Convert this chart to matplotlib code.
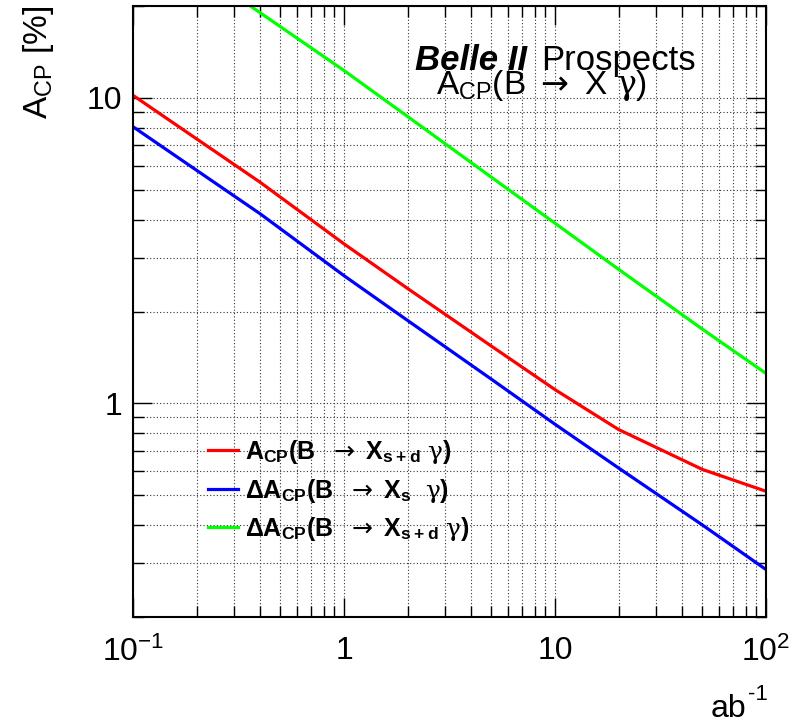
import numpy as np
import matplotlib
matplotlib.use('Agg')
import matplotlib.pyplot as plt
from matplotlib.ticker import LogLocator, FuncFormatter, NullFormatter

plt.rcParams['font.family'] = ['Liberation Sans', 'DejaVu Sans']
plt.rcParams['mathtext.fontset'] = 'custom'
plt.rcParams['mathtext.rm'] = 'Liberation Sans'
plt.rcParams['mathtext.it'] = 'DejaVu Serif'
plt.rcParams['mathtext.sf'] = 'DejaVu Sans'
plt.rcParams['mathtext.bf'] = 'Liberation Sans:bold'

# integrated luminosity [ab^-1]
lumi = [0.1, 0.2, 0.4, 1, 2, 5, 10, 20, 50, 100]
acp_sd = [10.2, 7.35, 5.3, 3.33, 2.38, 1.54, 1.11, 0.822, 0.608, 0.516]
dacp_s = [8.05, 5.8, 4.18, 2.62, 1.87, 1.20, 0.855, 0.615, 0.40, 0.286]
lumi_g = [0.36, 1, 2, 5, 10, 20, 50, 100]
dacp_sd = [20.0, 12.3, 8.7, 5.5, 3.89, 2.75, 1.75, 1.254]

arrow = '$\\mathsf{\\rightarrow}$'
labels = ['A$_{\\mathbf{CP}}$(B  ' + arrow + ' X$_{\\mathbf{s+d}}$ $\\gamma$)',
          'ΔA$_{\\mathbf{CP}}$(B  ' + arrow + ' X$_{\\mathbf{s}}$  $\\gamma$)',
          'ΔA$_{\\mathbf{CP}}$(B  ' + arrow + ' X$_{\\mathbf{s+d}}$ $\\gamma$)']

fig = plt.figure(figsize=(8.07, 7.24), dpi=100)
ax = fig.add_axes([133/807, 1-617/724, 633/807, 611/724])

l1, = ax.plot(lumi, acp_sd, color='#ff0000', lw=2.3)
l2, = ax.plot(lumi, dacp_s, color='#0000ff', lw=2.3)
l3, = ax.plot(lumi_g, dacp_sd, color='#00ff00', lw=2.3)

ax.set_xscale('log')
ax.set_yscale('log')
ax.set_xlim(0.1, 100)
ax.set_ylim(0.2, 20)

def fmt(v, pos):
    d = {0.1: '$10^{-1}$', 1: '1', 10: '10', 100: '$10^{2}$'}
    for k in d:
        if abs(v - k) < 1e-6 * k:
            return d[k]
    return ''

for a in (ax.xaxis, ax.yaxis):
    a.set_major_locator(LogLocator(base=10))
    a.set_minor_locator(LogLocator(base=10, subs=np.arange(2, 10)))
    a.set_major_formatter(FuncFormatter(fmt))
    a.set_minor_formatter(NullFormatter())

ax.tick_params(which='both', direction='in', top=True, right=True, width=1)
ax.tick_params(which='major', length=14, labelsize=23)
ax.tick_params(which='minor', length=8)
ax.tick_params(axis='x', which='major', pad=14)
ax.tick_params(axis='y', which='major', pad=8)
for s in ax.spines.values():
    s.set_linewidth(1.5)

ax.grid(which='both', color='#333333', linestyle=(0, (1, 2)), lw=0.8)

leg = ax.legend([l1, l2, l3], labels, loc='center left',
                bbox_to_anchor=(0.118, 0.207), frameon=False,
                prop={'weight': 'bold', 'size': 18}, handlelength=1.2,
                handletextpad=0.3, labelspacing=0.42, borderpad=0,
                borderaxespad=0)

fig.text(527/807, 1-70/724, 'Belle II', fontsize=25, fontweight='bold',
         fontstyle='italic', ha='right', va='baseline')
fig.text(541/807, 1-70/724, 'Prospects', fontsize=25, ha='left', va='baseline')
fig.text(542/807, 1-94/724, 'A$_{\\rm CP}$(B ' + arrow + ' X $\\gamma$)',
         fontsize=24, ha='center', va='baseline')

fig.text(39/807, 1-6/724, 'A$_{\\rm CP}$ [%]', fontsize=24, rotation=90,
         ha='center', va='top')
fig.text(746/807, 1-717/724, 'ab', fontsize=23, ha='right', va='baseline')
fig.text(748/807, 1-700/724, '-1', fontsize=16, ha='left', va='baseline')

fig.savefig('out.png', dpi=100)
